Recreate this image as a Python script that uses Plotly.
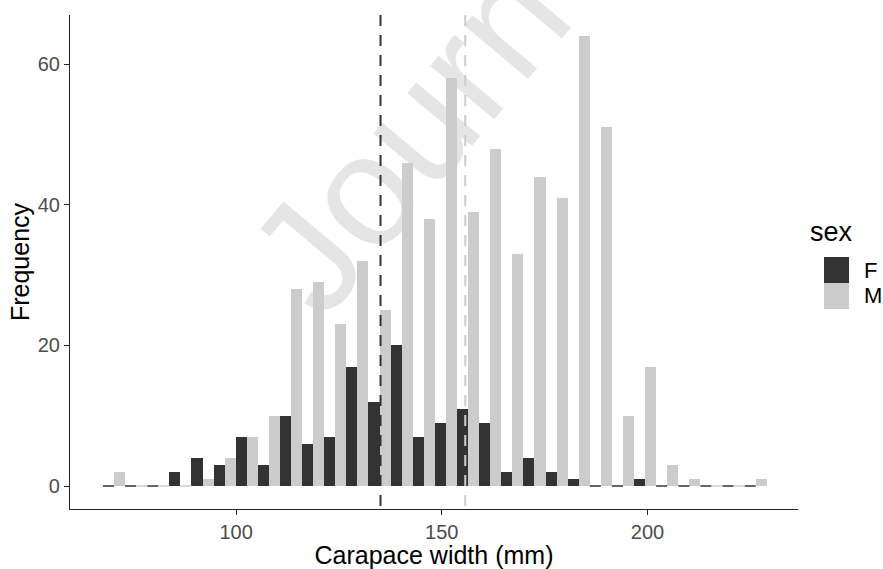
import plotly.graph_objects as go

# ---- data ----
bin_centers = [70.30, 75.68, 81.06, 86.44, 91.82, 97.20, 102.58, 107.96, 113.34, 118.72,
               124.10, 129.48, 134.86, 140.24, 145.62, 151.00, 156.38, 161.76, 167.14, 172.52,
               177.90, 183.28, 188.66, 194.04, 199.42, 204.80, 210.18, 215.56, 220.94, 226.32]
female_counts = [0, 0, 0, 2, 4, 3, 7, 3, 10, 6,
                 7, 17, 12, 20, 7, 9, 11, 9, 2, 4,
                 2, 1, 0, 0, 1, 0, 0, 0, 0, 0]
male_counts = [2, 0, 0, 0, 1, 4, 7, 10, 28, 29,
               23, 32, 25, 46, 38, 58, 39, 48, 33, 44,
               41, 64, 51, 10, 17, 3, 1, 0, 0, 1]
sexes = ["F", "M"]
mean_width = [135.1, 155.7]       # F, M means (dashed lines)
x_ticks = [100, 150, 200]
y_ticks = [0, 20, 40, 60]

colors = {"F": "#333333", "M": "#CCCCCC"}
FONT = "Liberation Sans, Arial, sans-serif"

bin_w = bin_centers[1] - bin_centers[0]

fig = go.Figure()
fig.add_bar(x=bin_centers, y=female_counts, name="F", marker_color=colors["F"],
            marker_line_width=0, showlegend=False)
fig.add_bar(x=bin_centers, y=male_counts, name="M", marker_color=colors["M"],
            marker_line_width=0, showlegend=False)

# zero-height bars as thin baseline segments (as ggplot renders them)
for k, (sex, counts) in enumerate(zip(sexes, [female_counts, male_counts])):
    xs, ys = [], []
    for c, n in zip(bin_centers, counts):
        if n == 0:
            if k == 0:
                xs += [c - bin_w / 2, c, None]
            else:
                xs += [c, c + bin_w / 2, None]
            ys += [0, 0, None]
    fig.add_scatter(x=xs, y=ys, mode="lines", line=dict(color=colors[sex], width=1.5),
                    showlegend=False, hoverinfo="skip")

shapes = []
# watermark (below data)
shapes.append(dict(type="line", xref="paper", yref="paper",
                   x0=-0.044, y0=-0.092, x1=0.942, y1=1.641, layer="below",
                   line=dict(color="rgba(0,0,0,0)", width=1),
                   label=dict(text="Journ", textposition="middle",
                              textangle=-50, xanchor="center", yanchor="middle",
                              font=dict(family=FONT, size=158, color="#E5E5E5"))))
# mean lines
for sex, m in zip(sexes, mean_width):
    shapes.append(dict(type="line", xref="x", yref="paper", x0=m, x1=m, y0=1, y1=0,
                       line=dict(color=colors[sex], width=2, dash="11px,9px"), layer="above"))

# legend drawn manually (ggplot-style large keys)
key_x0, key_x1 = 1.0357, 1.0701
key_y = [(0.5101, 0.4575), (0.4575, 0.4049)]
for sex, (ya, yb) in zip(sexes, key_y):
    shapes.append(dict(type="rect", xref="paper", yref="paper", x0=key_x0, x1=key_x1,
                       y0=yb, y1=ya, fillcolor=colors[sex], line=dict(width=0)))

annotations = [dict(text="sex", xref="paper", yref="paper", x=1.0137, y=0.5607,
                    xanchor="left", yanchor="middle", showarrow=False,
                    font=dict(family=FONT, size=27, color="black"))]
for sex, y in zip(sexes, [0.4818, 0.4312]):
    annotations.append(dict(text=sex, xref="paper", yref="paper", x=1.0879, y=y,
                            xanchor="left", yanchor="middle", showarrow=False,
                            font=dict(family=FONT, size=22, color="black")))

axis_common = dict(showline=True, linecolor="#222222", linewidth=1.1, ticks="outside",
                   ticklen=5, tickwidth=1.1, tickcolor="#222222", showgrid=False,
                   zeroline=False, automargin=False,
                   tickfont=dict(family=FONT, size=20, color="#4D4D4D"))

fig.update_layout(
    width=883, height=569,
    margin=dict(l=70, r=85, t=15, b=60),
    paper_bgcolor="white", plot_bgcolor="rgba(0,0,0,0)",
    barmode="group", bargap=0, bargroupgap=0,
    font=dict(family=FONT),
    xaxis=dict(range=[59.6, 236.6], tickvals=x_ticks,
               title=dict(text="Carapace width (mm)", standoff=8,
                          font=dict(family=FONT, size=25, color="black")),
               **axis_common),
    yaxis=dict(range=[-3.27, 67.0], tickvals=y_ticks,
               title=dict(text="Frequency", standoff=0,
                          font=dict(family=FONT, size=25, color="black")),
               **axis_common),
    shapes=shapes, annotations=annotations,
)

fig.write_html("out.html")
